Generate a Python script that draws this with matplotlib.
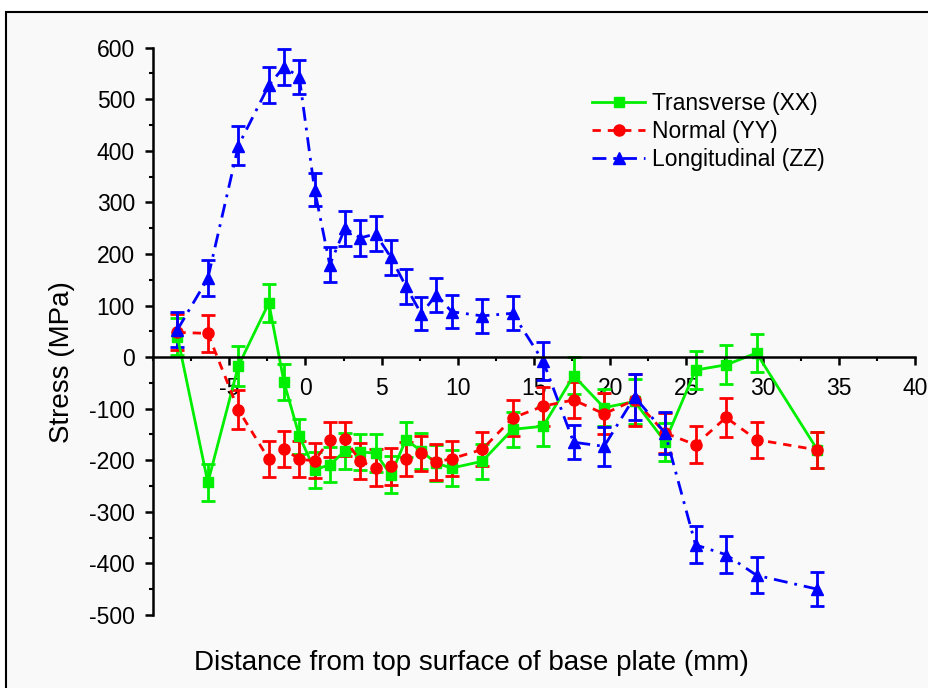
import numpy as np
import matplotlib.pyplot as plt
from matplotlib.patches import Rectangle
from matplotlib.ticker import MultipleLocator

plt.rcParams['font.family'] = ['Liberation Sans', 'DejaVu Sans']
plt.rcParams['axes.unicode_minus'] = False

# Data
distance = [-8.4, -6.4, -4.4, -2.4, -1.4, -0.4, 0.6, 1.6, 2.6, 3.6, 4.6, 5.6, 6.6, 7.6,
            8.6, 9.6, 11.6, 13.6, 15.6, 17.6, 19.6, 21.6, 23.6, 25.6, 27.6, 29.6, 33.6]

xx = [40, -243, -17, 105, -49, -153, -218, -209, -182, -184, -186, -228, -160, -182,
      -206, -215, -202, -140, -134, -36, -98, -86, -164, -25, -15, 8, -180]
xx_err = [35, 35, 38, 36, 35, 34, 35, 34, 34, 35, 36, 36, 34, 34,
          35, 35, 34, 34, 38, 36, 36, 44, 37, 36, 38, 37, 34]

yy = [48, 46, -102, -198, -178, -198, -201, -160, -159, -202, -214, -212, -197, -186,
      -203, -197, -179, -118, -95, -83, -110, -83, -147, -170, -117, -160, -180]
yy_err = [35, 36, 38, 35, 35, 35, 34, 34, 33, 35, 36, 35, 33, 34,
          35, 34, 33, 34, 38, 35, 40, 50, 38, 36, 38, 35, 34]

zz = [53, 153, 410, 527, 563, 543, 325, 179, 250, 231, 239, 194, 137, 84,
      121, 88, 80, 85, -8, -165, -173, -77, -147, -364, -383, -423, -450]
zz_err = [34, 35, 38, 35, 35, 33, 32, 34, 34, 34, 34, 34, 33, 32,
          33, 32, 33, 33, 37, 33, 38, 45, 40, 36, 36, 35, 33]

fig = plt.figure(figsize=(9.29, 6.88), dpi=100, facecolor='white')
fig.patches.append(Rectangle((6 / 929, -0.05), 1.2, 1.05 - 12 / 688,
                             transform=fig.transFigure, facecolor='#f9f9f9',
                             edgecolor='black', linewidth=1.5, zorder=-10))

ax = fig.add_axes([153 / 929, 1 - 615 / 688, (915 - 153) / 929, (615 - 47.7) / 688])
ax.patch.set_visible(False)

common = dict(elinewidth=2, capsize=5, capthick=2, linewidth=2, clip_on=False)
e1 = ax.errorbar(distance, xx, yerr=xx_err, color='#00ee00', linestyle='-', marker='s',
                 markersize=7, **common)
e2 = ax.errorbar(distance, yy, yerr=yy_err, color='#ff0000', linestyle=(0, (3, 2.5)), marker='o',
                 markersize=8, **common)
e3 = ax.errorbar(distance, zz, yerr=zz_err, color='#0000ff', linestyle=(0, (5, 2.5, 1, 2.5)), marker='^',
                 markersize=9, **common)

ax.set_xlim(-10, 40)
ax.set_ylim(-500, 600)
ax.spines['top'].set_visible(False)
ax.spines['right'].set_visible(False)
ax.spines['bottom'].set_position(('data', 0))
ax.spines['left'].set_linewidth(1.8)
ax.spines['bottom'].set_linewidth(1.8)

ax.set_xticks(np.arange(-5, 41, 5))
ax.set_yticks(np.arange(-500, 601, 100))
ax.xaxis.set_minor_locator(MultipleLocator(2.5))
ax.yaxis.set_minor_locator(MultipleLocator(50))
ax.tick_params(which='major', direction='out', length=6, width=1.8, labelsize=16.5)
ax.tick_params(which='minor', direction='out', length=3, width=1.5)
ax.tick_params(axis='x', pad=8.5)
ax.tick_params(axis='y', pad=7)

fig.text(471 / 929, 1 - 663 / 688, 'Distance from top surface of base plate (mm)',
         ha='center', va='center', fontsize=20)
fig.text(62 / 929, 1 - 362 / 688, 'Stress (MPa)', rotation=90,
         ha='center', va='center', fontsize=20)

ax.legend([e1[0], e2[0], e3[0]], ['Transverse (XX)', 'Normal (YY)', 'Longitudinal (ZZ)'],
          loc='upper left', bbox_to_anchor=(581 / 929, 1 - 81 / 688),
          bbox_transform=fig.transFigure, frameon=False, fontsize=16.5,
          handlelength=2.3, handletextpad=0.3, labelspacing=0.2, borderpad=0)

fig.savefig('out.png', dpi=100)
